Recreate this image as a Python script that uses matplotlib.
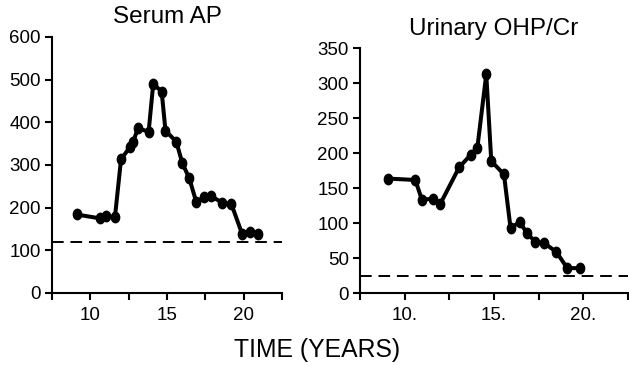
import numpy as np
import matplotlib.pyplot as plt
from matplotlib.path import Path

plt.rcParams['font.family'] = ['Liberation Sans', 'DejaVu Sans']

# serum alkaline phosphatase
ap_years = [9.1, 10.6, 11.0, 11.6, 12.0, 12.6, 12.8, 13.1, 13.8, 14.1, 14.65,
            14.9, 15.6, 16.0, 16.45, 16.9, 17.4, 17.85, 18.6, 19.2, 19.9, 20.4, 20.9]
ap_vals = [184, 175, 180, 177, 313, 343, 355, 386, 378, 490, 472,
           380, 355, 304, 269, 214, 224, 227, 212, 208, 138, 144, 138]
ap_normal = 120

# urinary hydroxyproline / creatinine
ohp_years = [9.07, 10.6, 10.96, 11.57, 11.98, 13.05, 13.7, 14.07, 14.57, 14.85,
             15.56, 15.93, 16.44, 16.85, 17.3, 17.8, 18.5, 19.1, 19.8]
ohp_vals = [164, 162, 134, 135, 127, 180, 198, 208, 313, 189,
            170, 93, 102, 86, 74, 72, 59, 36, 36]
ohp_normal = 25

# vertically elongated dot marker
circ = Path.unit_circle()
dot = Path(circ.vertices * [0.8, 1.0], circ.codes)

fig = plt.figure(figsize=(6.29, 3.66), dpi=100)
ax1 = fig.add_axes([0.0827, 0.1995, 0.3657, 0.6995])
ax2 = fig.add_axes([0.5723, 0.1986, 0.426, 0.669])

def style(ax):
    for s in ['top', 'right']:
        ax.spines[s].set_visible(False)
    for s in ['left', 'bottom']:
        ax.spines[s].set_linewidth(1.5)
    ax.tick_params(direction='out', length=5, width=1.5, labelsize=13.5, pad=3)
    ax.tick_params(axis='x', pad=5)
    ax.set_xlim(7.5, 22.5)
    ax.set_xticks(np.arange(7.5, 22.6, 2.5))

ax1.plot(ap_years, ap_vals, color='black', lw=2.9, marker=dot, markersize=7.5)
ax1.axhline(ap_normal, color='black', lw=1.4, ls=(0, (6, 3.5)))
style(ax1)
ax1.set_ylim(0, 600)
ax1.set_yticks(range(0, 601, 100))
ax1.set_xticklabels(['', '10', '', '15', '', '20', ''])
ax1.set_title('Serum AP', fontsize=17.5, pad=10)

ax2.plot(ohp_years, ohp_vals, color='black', lw=2.9, marker=dot, markersize=7.5)
ax2.axhline(ohp_normal, color='black', lw=1.4, ls=(0, (6, 3.5)))
style(ax2)
ax2.set_ylim(0, 350)
ax2.set_yticks(range(0, 351, 50))
ax2.set_xticklabels(['', '10.', '', '15.', '', '20.', ''])
ax2.set_title('Urinary OHP/Cr', fontsize=17.5, pad=10)

fig.text(0.504, 0.012, 'TIME (YEARS)', ha='center', va='bottom', fontsize=17.8)

plt.savefig('out.png', dpi=100)
